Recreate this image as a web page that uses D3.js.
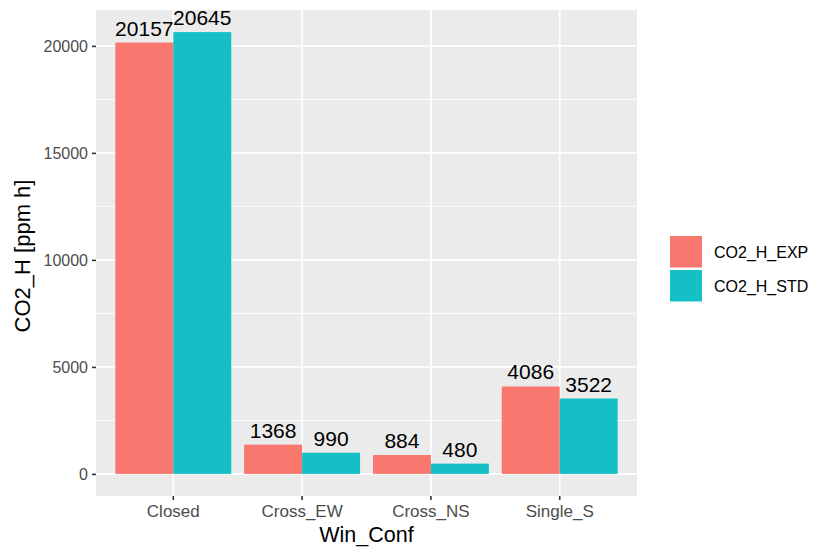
<!DOCTYPE html>
<html>
<head>
<meta charset="utf-8">
<script src="https://cdn.jsdelivr.net/npm/d3@7"></script>
<style>
  html, body { margin: 0; padding: 0; background: #fff; }
  svg text { font-family: "Liberation Sans", Arial, sans-serif; }
</style>
</head>
<body>
<svg id="chart" width="818" height="547"></svg>
<script>
const categories = ["Closed", "Cross_EW", "Cross_NS", "Single_S"];
const seriesNames = ["CO2_H_EXP", "CO2_H_STD"];
const expValues = [20157, 1368, 884, 4086];
const stdValues = [20645, 990, 480, 3522];
const yTicks = [0, 5000, 10000, 15000, 20000];
const yMinorTicks = [2500, 7500, 12500, 17500];
const colors = ["#F8786F", "#14C0C6"];

const svg = d3.select("#chart");
const panel = { left: 96, right: 637, top: 10, bottom: 496 };

const maxVal = d3.max([...expValues, ...stdValues]);
const pad = maxVal * 0.05;

const x = d3.scaleBand().domain(categories)
  .range([panel.left, panel.right]).paddingInner(0.1).paddingOuter(0.15);
const xs = d3.scaleBand().domain(seriesNames).range([0, x.bandwidth()]);
const y = d3.scaleLinear().domain([-pad, maxVal + pad]).range([panel.bottom, panel.top]);
const color = d3.scaleOrdinal().domain(seriesNames).range(colors);

// panel background
svg.append("rect").attr("x", panel.left).attr("y", panel.top)
  .attr("width", panel.right - panel.left).attr("height", panel.bottom - panel.top)
  .attr("fill", "#EBEBEB");

// minor grid
svg.append("g").selectAll("line").data(yMinorTicks).join("line")
  .attr("x1", panel.left).attr("x2", panel.right)
  .attr("y1", d => y(d)).attr("y2", d => y(d))
  .attr("stroke", "#fff").attr("stroke-width", 0.9);
// major grid
svg.append("g").selectAll("line").data(yTicks).join("line")
  .attr("x1", panel.left).attr("x2", panel.right)
  .attr("y1", d => y(d)).attr("y2", d => y(d))
  .attr("stroke", "#fff").attr("stroke-width", 1.8);
svg.append("g").selectAll("line").data(categories).join("line")
  .attr("y1", panel.top).attr("y2", panel.bottom)
  .attr("x1", d => x(d) + x.bandwidth() / 2).attr("x2", d => x(d) + x.bandwidth() / 2)
  .attr("stroke", "#fff").attr("stroke-width", 1.8);

// data rows
const rows = categories.map((c, i) => ({ cat: c, values: [
  { s: seriesNames[0], v: expValues[i] },
  { s: seriesNames[1], v: stdValues[i] } ] }));

const groups = svg.append("g").selectAll("g").data(rows).join("g")
  .attr("transform", d => `translate(${x(d.cat)},0)`);
groups.selectAll("rect").data(d => d.values).join("rect")
  .attr("x", d => xs(d.s)).attr("width", xs.bandwidth())
  .attr("y", d => y(d.v)).attr("height", d => y(0) - y(d.v))
  .attr("fill", d => color(d.s));
groups.selectAll("text").data(d => d.values).join("text")
  .attr("x", d => xs(d.s) + xs.bandwidth() / 2)
  .attr("y", d => y(d.v) - 7)
  .attr("text-anchor", "middle")
  .attr("font-size", "21px").attr("fill", "#000")
  .text(d => d.v);

// y axis
const yAxis = svg.append("g").attr("transform", `translate(${panel.left},0)`)
  .call(d3.axisLeft(y).tickValues(yTicks).tickSize(4).tickPadding(4).tickFormat(d3.format("d")));
yAxis.select(".domain").remove();
yAxis.selectAll(".tick line").attr("stroke", "#333").attr("stroke-width", 1.6);
yAxis.selectAll(".tick text").attr("font-size", "16px").attr("fill", "#4D4D4D")
  .attr("font-family", "'Liberation Sans', Arial, sans-serif");

// x axis
const xAxis = svg.append("g").attr("transform", `translate(0,${panel.bottom})`)
  .call(d3.axisBottom(x).tickSize(4).tickPadding(5));
xAxis.select(".domain").remove();
xAxis.selectAll(".tick line").attr("stroke", "#333").attr("stroke-width", 1.6);
xAxis.selectAll(".tick text").attr("font-size", "17px").attr("fill", "#4D4D4D")
  .attr("font-family", "'Liberation Sans', Arial, sans-serif");

// axis titles
svg.append("text").attr("x", (panel.left + panel.right) / 2).attr("y", 542)
  .attr("text-anchor", "middle").attr("font-size", "21.5px").attr("fill", "#000")
  .text("Win_Conf");
svg.append("text")
  .attr("transform", `translate(30,${(panel.top + panel.bottom) / 2 + 3}) rotate(-90)`)
  .attr("text-anchor", "middle").attr("font-size", "22px").attr("fill", "#000")
  .text("CO2_H [ppm h]");

// legend
const legend = svg.append("g").attr("transform", "translate(670,236)");
const items = legend.selectAll("g").data(seriesNames).join("g")
  .attr("transform", (d, i) => `translate(0,${i * 34})`);
items.append("rect").attr("width", 32).attr("height", 31.5).attr("fill", d => color(d));
items.append("text").attr("x", 44).attr("y", 16.5).attr("dominant-baseline", "central")
  .attr("font-size", "16px").attr("fill", "#000").text(d => d);
</script>
</body>
</html>
